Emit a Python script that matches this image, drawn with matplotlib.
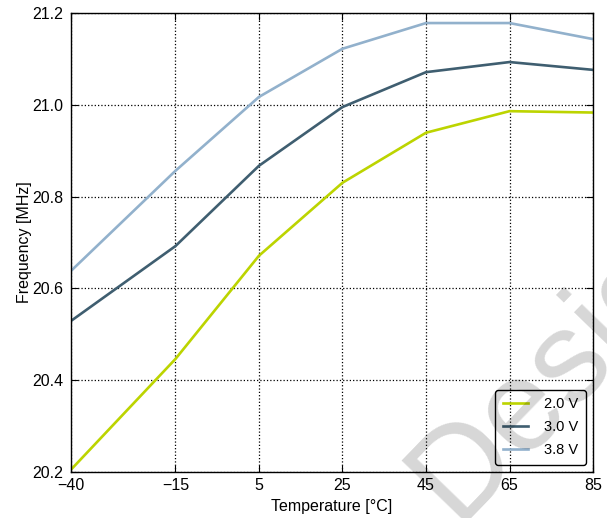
import matplotlib
matplotlib.use('Agg')
import matplotlib.pyplot as plt

plt.rcParams['font.family'] = ['Liberation Sans', 'DejaVu Sans']

temps = [-40, -15, 5, 25, 45, 65, 85]
f_2v0 = [20.205, 20.446, 20.671, 20.830, 20.939, 20.986, 20.983]
f_3v0 = [20.529, 20.692, 20.867, 20.995, 21.071, 21.093, 21.076]
f_3v8 = [20.638, 20.856, 21.017, 21.122, 21.178, 21.178, 21.143]
labels = ['2.0 V', '3.0 V', '3.8 V']
colors = ['#bcd400', '#3f5e70', '#92b1cc']

fig = plt.figure(figsize=(6.07, 5.18), dpi=100)
ax = fig.add_axes([0.117, 0.089, 0.860, 0.886])

for ys, lab, c in zip([f_2v0, f_3v0, f_3v8], labels, colors):
    ax.plot(temps, ys, color=c, linewidth=1.9, label=lab)

ax.set_xlim(-40, 85)
ax.set_ylim(20.2, 21.2)
ax.set_xticks(temps)
ax.set_xticklabels([str(t).replace('-', '\u2212') for t in temps])
ax.set_yticks([20.2, 20.4, 20.6, 20.8, 21.0, 21.2])
ax.set_yticklabels(['20.2', '20.4', '20.6', '20.8', '21.0', '21.2'])
ax.tick_params(direction='in', length=5, top=True, right=True, labelsize=11.5)
ax.tick_params(axis='y', pad=5.5)
ax.tick_params(axis='x', pad=4.5)
ax.grid(True, color='black', linestyle=':', linewidth=0.9)
for s in ax.spines.values():
    s.set_linewidth(1.0)

ax.set_xlabel('Temperature [°C]', fontsize=11.5, labelpad=4)
ax.set_ylabel('Frequency [MHz]', fontsize=11.5, labelpad=0)

leg = ax.legend(loc='lower right', fontsize=10.5, frameon=True, fancybox=True,
                edgecolor='black', facecolor='none', framealpha=1,
                handlelength=1.75, handletextpad=1.1, labelspacing=0.62,
                borderpad=0.5, borderaxespad=0.5)
leg.get_frame().set_linewidth(1.0)

# faint watermark across the lower right corner
fig.text(456 / 607, 1 - 523 / 518, 'Design', fontsize=93, color='black', alpha=0.16,
         rotation=46, rotation_mode='anchor', ha='left', va='baseline')

fig.savefig('out.png', dpi=100)
